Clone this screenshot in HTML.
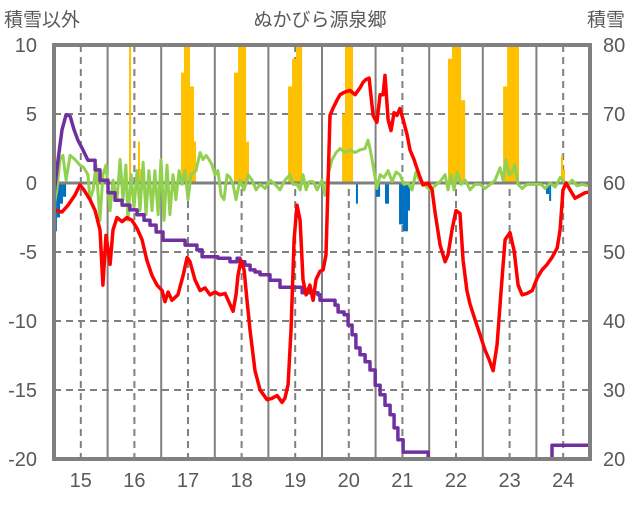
<!DOCTYPE html>
<html><head><meta charset="utf-8">
<style>
body{margin:0;background:#fff;}
svg text{font-family:"Liberation Sans","Noto Sans CJK JP",sans-serif;fill:#595959;}
</style></head>
<body>
<svg id="chart" width="636" height="501" xmlns="http://www.w3.org/2000/svg">
<text x="320" y="26" font-size="19" text-anchor="middle">ぬかびら源泉郷</text>
<text x="4" y="26" font-size="19">積雪以外</text>
<text x="587" y="26" font-size="19">積雪</text>
<g id="grid"></g>
<g id="plot" clip-path="url(#clip)"></g>
<defs><clipPath id="clip"><rect x="54" y="45" width="536" height="414"/></clipPath></defs>
<rect x="54" y="45" width="536" height="414" fill="none" stroke="#808080" stroke-width="4"/>
<g id="axes"></g>
</svg>
<script>
const xTickLabels=["15","16","17","18","19","20","21","22","23","24"];
const leftTicks=[10,5,0,-5,-10,-15,-20];
const rightTicks=[80,70,60,50,40,30,20];
const redHours=[0,3.6,6.3,9.4,11.6,13.4,16.1,18.4,20.6,21.9,23.3,25.1,26.4,28.2,30.5,32.7,34.9,37.2,39.4,41.6,43.9,46.1,48.4,49.7,51.1,52.8,55.5,57.8,59.6,60.9,63.1,65.4,67.6,69.9,72.1,74.3,76.6,78.8,80.2,81.5,82.4,83.7,85.1,86.4,87.8,90,92.3,95.4,97.6,99.9,102.1,103.4,104.8,106.1,107.5,108.8,110.2,111.5,112.9,114.6,116,117.3,119.1,120.5,121.8,123.6,124.9,126.7,128.1,130.3,132.6,134.8,137,138.4,139.7,141.1,142.9,144.6,146,147.3,148.2,149.6,150.9,152.3,153.6,154.9,156.3,158.1,159.4,161.2,163.5,165.2,167.5,169.3,170.6,172.9,175.1,176.4,178.2,180,181.8,183.2,184.9,186.3,188.5,190.8,193,194.8,196.6,198.4,200.2,202,204.2,206,207.8,209.6,211.8,214.1,216.3,218.5,220.8,223,225.3,226.6,227.9,229.3,231.1,233.3,235.6,237.8,240];
const redValues=[-1.96,-2.1,-1.6,-0.87,-0.14,-0.5,-1.2,-2,-3.4,-7.4,-3.8,-5.9,-3.4,-2.5,-2.8,-2.5,-2.7,-3.3,-4.1,-5.6,-6.7,-7.4,-7.8,-8.6,-7.9,-8.5,-8.1,-6.7,-5.4,-5.7,-7,-7.8,-7.6,-8.1,-7.9,-8.1,-8,-8.8,-9.3,-8.1,-6.7,-5.6,-6.3,-8.5,-10.7,-13.6,-15,-15.7,-15.6,-15.4,-15.9,-15.6,-14.6,-10.7,-4.1,-1.6,-2.7,-7,-8.1,-7.4,-8.5,-7,-6.4,-6.3,-5.2,4.9,5.4,6,6.4,6.6,6.7,6.4,6.9,7.3,7.5,7.6,4.9,4.4,6.4,6.4,7.8,4.6,3.8,5.1,4.9,5.4,4.6,3.5,2.4,1.7,0.6,-0.14,0,-0.5,-2.1,-4.5,-5.7,-5.2,-3.4,-2,-2.2,-5.6,-7.8,-8.8,-9.9,-11,-12.1,-12.8,-13.6,-11.7,-7.8,-4.1,-3.6,-4.9,-7.4,-8.1,-8,-7.8,-6.9,-6.3,-5.9,-5.4,-4.7,-3.4,-0.5,0,-0.5,-1.1,-0.9,-0.7,-0.65];
const snowHours=[0,1.8,3.6,5.4,7.2,9,10.7,12.5,15.2,18.4,20.6,24.2,27.3,30.5,34,37.2,40.3,43,45.7,48.8,55.5,58.7,61.8,64,66.3,73.4,76.6,78.8,81.1,82,83.3,85.5,87.8,90,92.3,96.7,101.2,110.2,111.1,118.2,119.1,125.8,127.2,129.9,131.7,133.5,135.2,137,139.3,141.5,143.8,146,148.2,150.5,152.3,154,156.3,163.9,167.5,219.9,223,240];
const snowValues=[58.3,63.3,67.7,69.9,69.7,67.7,66.2,65.1,63.3,61.9,60.4,58.6,57.5,56.8,56.1,55.4,54.6,53.9,52.9,51.7,51.7,51,51,50.3,49.3,49.1,49.1,48.6,48.6,49.1,48.6,48.1,47.4,47.1,46.7,45.9,44.9,44.9,44.1,43.8,43,42.3,41.3,40.9,39.4,38,36.1,35.1,34.1,32.9,30.7,29.3,27.8,26.4,24.5,22.8,21,21,20,20,22,22];
const greenHours=[0,1.3,2.7,4,5.4,7.2,9.4,11.6,13.4,15.2,16.1,17.5,18.8,20.6,21.9,23.3,25.1,26.4,28.2,29.6,30.9,32.2,33.1,34.5,35.8,37.2,38.5,39.9,41.2,42.5,43.9,45.2,46.6,47.9,49.3,50.6,51.9,53.3,54.6,56,57.3,58.7,60,61.4,63.6,65.4,66.7,68.1,69.4,70.8,72.1,73.4,74.8,76.1,77.5,78.8,80.2,81.5,83.3,85.1,86.9,88.7,90.5,92.3,94.5,96.7,99,101.2,103.4,105.7,107,108.8,110.2,111.5,112.9,114.2,116,117.8,120,121.4,122.7,124.5,126.3,128.1,130.3,132.6,134.8,137,139.3,140.6,141.5,143.3,144.6,146,147.8,149.6,151.4,153.2,154.9,156.7,158.5,160.3,162.1,163.9,165.7,168.4,170.6,172.9,175.1,176.4,177.8,179.1,180.5,182.3,184.1,186.3,188.5,190.8,193,195.3,197.5,199.7,201.1,202.4,203.8,205.1,206.4,207.8,209.6,211.8,214.1,216.3,218.1,219.9,222.1,224.4,226.6,227.9,229.7,232,234.2,236.5,239.1];
const greenValues=[-1.6,-0.5,1.7,2,0.2,2,1.7,1.3,1.1,0.6,-1.2,-0.5,1.3,-2.7,0.6,1.3,-2,0.2,-1.2,1.7,-1.2,1.3,-2.7,0.6,-1.8,0.9,-2,1.5,-2.3,0.9,-2,0.9,-2.3,1.7,-2.7,1.3,-2.3,0.6,-1.2,0.9,-0.1,0.9,-1.2,0.6,0.9,2.2,1.7,2,1.7,1.3,0.6,0.9,-0.9,-1.2,0.6,0.4,-0.1,-1.2,0.2,-0.5,0.6,0.2,-0.5,-0.1,-0.4,0.2,-0.1,-0.5,0.2,0.6,-0.1,-0.1,-0.5,0.6,-0.5,0.1,0.1,-0.5,0.2,-0.9,0.6,1.7,2.2,2.5,2.2,2.4,2.2,2.4,2.5,3.1,2.5,0.9,-0.4,0.6,0.4,0.9,0.1,0.8,0.6,-0.1,0,-0.5,0.8,0.1,-0.1,-0.5,-0.2,0.1,0.6,-0.5,0.6,-0.5,0.8,-0.1,0.2,-0.5,-0.1,-0.1,-0.4,-0.1,0.2,1.1,0.2,1.7,0.6,0.8,1.3,-0.1,-0.4,-0.1,-0.1,-0.1,-0.1,-0.4,0,-0.3,0.4,0.2,-0.2,0.2,-0.2,-0.1,-0.2];
const barStart=[31.8,33.6,37.6,38.5,56.9,58.2,60.9,62.7,80.6,82.4,86,104.8,106.6,108.4,129,130.3,176.4,178.2,182.3,201.1,202.9,227,227.9,0,1.3,2.7,4,135.2,144.2,148.2,154.5,156.3,158.5,220.3,221.7];
const barEnd=[32.7,34.5,38.5,39.4,58.2,60.9,62.7,63.6,82.4,86,87.3,106.6,108.4,111.1,130.3,133.9,178.2,182.3,184.1,202.9,208.2,227.9,228.8,1.3,2.7,4,5.4,136.1,146,150,156.3,158.5,159.4,221.7,222.6];
const barValues=[1,12,3,1,8,12,7,3,8,12,3,7,9,12,5,12,9,12,6,7,12,2,1,-3.5,-2.5,-1.5,-1,-1.5,-1,-1.5,-3,-3.5,-2,-0.8,-1.3];

const X0=54,X1=590,Y0=45,Y1=459,HMAX=240;
const xs=h=>X0+(X1-X0)*h/HMAX;
const yL=v=>Y0+(10-v)*(Y1-Y0)/30;
const yR=v=>Y0+(80-v)*(Y1-Y0)/60;
const NS='http://www.w3.org/2000/svg';
function mk(tag,attrs,parent){const e=document.createElementNS(NS,tag);for(const k in attrs)e.setAttribute(k,attrs[k]);parent.appendChild(e);return e;}
const grid=document.getElementById('grid'),plot=document.getElementById('plot'),axes=document.getElementById('axes');
leftTicks.forEach((t,i)=>{
  const y=yL(t);
  if(t!==10&&t!==-20&&t!==0){const l=mk('line',{x1:X0,x2:X1,y1:y,y2:y,stroke:'#808080','stroke-width':2,'stroke-dasharray':'7,5'},grid);
  }
  const a=mk('text',{x:37,y:y+7,'font-size':20,'text-anchor':'end'},axes);a.textContent=t;
  
  const b=mk('text',{x:603,y:y+7,'font-size':20},axes);b.textContent=rightTicks[i];
  
});
for(let k=1;k<10;k++){const x=xs(k*24);const l=mk('line',{x1:x,x2:x,y1:Y0,y2:Y1,stroke:'#808080','stroke-width':2},grid);
  }
xTickLabels.forEach((s,i)=>{const x=xs(12+i*24);
  const l=mk('line',{x1:x,x2:x,y1:Y0,y2:Y1,stroke:'#808080','stroke-width':2,'stroke-dasharray':'7,5'},grid);
  
  const t=mk('text',{x:x,y:487,'font-size':20,'text-anchor':'middle'},axes);t.textContent=s;
  });
barValues.forEach((v,i)=>{const x=xs(barStart[i]),w=xs(barEnd[i])-x;const y0=yL(0),y=yL(v);
  const r=mk('rect',{x:x,y:Math.min(y,y0),width:w,height:Math.abs(y-y0),fill:v>0?'#FFC000':'#0070C0'},plot);
  });
const zl=mk('line',{x1:X0,x2:X1,y1:yL(0),y2:yL(0),stroke:'#808080','stroke-width':3},plot);

function line(hs,vs,ys,color,w,name,step){let d='';
  hs.forEach((h,i)=>{const x=xs(h).toFixed(1),y=ys(vs[i]).toFixed(1);
    if(i===0)d+='M'+x+','+y;else if(step&&i>8)d+='H'+x+'V'+y;else d+='L'+x+','+y;});
  const p=mk('path',{d:d,fill:'none',stroke:color,'stroke-width':w,'stroke-linejoin':'round'},plot);
  }
line(greenHours,greenValues,yL,'#92D050',3,'green-series-line',false);
line(snowHours,snowValues,yR,'#7030A0',3.5,'snow-depth-line',true);
line(redHours,redValues,yL,'#FF0000',3.5,'red-series-line',false);
</script>
</body></html>
